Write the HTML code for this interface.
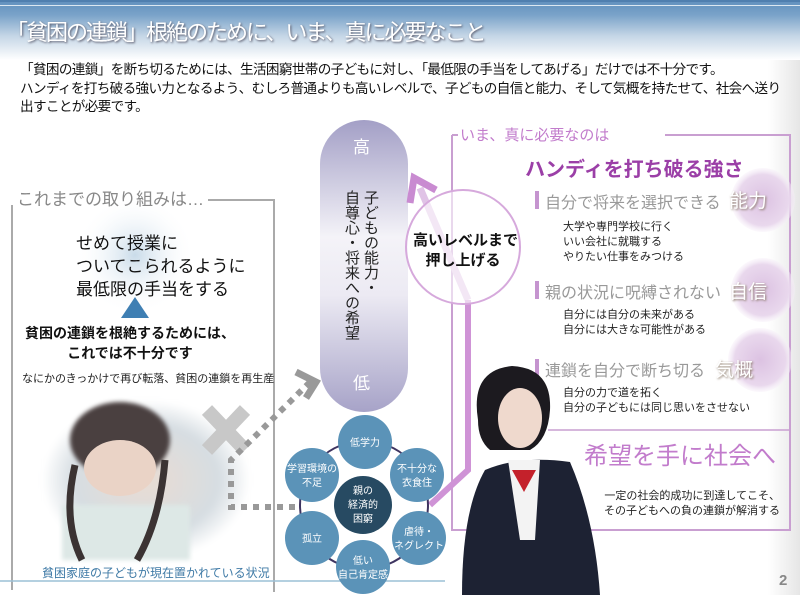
<!DOCTYPE html>
<html><head><meta charset="utf-8">
<style>
body{margin:0;width:800px;height:595px;overflow:hidden;background:#fff;font-family:"Liberation Sans","Noto Sans CJK JP",sans-serif;}
.abs{position:absolute;white-space:nowrap;}
</style></head><body>
<div style="position:relative;width:800px;height:595px;background:linear-gradient(90deg,#fff 0,#fff 96%,#e6e6e6 100%);">
<div class="abs" style="left:0;top:0;width:800px;height:60px;background:linear-gradient(180deg,#5f8fbd 0,#7aa3c9 25%,#c5d6e6 60%,#fff 100%);"></div>
<div class="abs" style="left:0;top:0;width:800px;height:2px;background:#4f7faf;"></div>
<div class="abs" style="left:0;top:5px;width:800px;height:1px;background:#dbe7f1;"></div>
<div class="abs" style="left:6px;top:15px;font-size:22px;color:#fff;letter-spacing:-2px;text-shadow:1px 1px 2px #556;">「貧困の連鎖」根絶のために、いま、真に必要なこと</div>
<div class="abs" style="left:20px;top:61px;font-size:13.6px;line-height:18.5px;color:#111;letter-spacing:-0.65px;">「貧困の連鎖」を断ち切るためには、生活困窮世帯の子どもに対し、「最低限の手当をしてあげる」だけでは不十分です。<br>ハンディを打ち破る強い力となるよう、むしろ普通よりも高いレベルで、子どもの自信と能力、そして気概を持たせて、社会へ送り<br>出すことが必要です。</div>

<svg class="abs" style="left:0;top:0" width="800" height="595">
<defs>
<radialGradient id="glow"><stop offset="0" stop-color="#c9dbe9"/><stop offset="1" stop-color="#fff" stop-opacity="0"/></radialGradient>
<linearGradient id="pill" x1="0" y1="0" x2="0" y2="1"><stop offset="0" stop-color="#a39fc6"/><stop offset=".4" stop-color="#f4f3f8"/><stop offset=".6" stop-color="#eceaf3"/><stop offset="1" stop-color="#a7a3c8"/></linearGradient>
<radialGradient id="pglow"><stop offset="0" stop-color="#dcc2e2"/><stop offset=".8" stop-color="#e9d8ed"/><stop offset="1" stop-color="#f6eef8" stop-opacity="0.4"/></radialGradient>
<radialGradient id="girl1"><stop offset="0" stop-color="#e9dcd3"/><stop offset=".7" stop-color="#d6dde2"/><stop offset="1" stop-color="#fff"/></radialGradient>
</defs>
<polyline points="12,205 12,590" fill="none" stroke="#aaa" stroke-width="2"/>
<polyline points="208,200 274,200 274,592" fill="none" stroke="#aaa" stroke-width="2"/>
<circle cx="135" cy="255" r="60" fill="url(#glow)"/>
<polygon points="135,297 121,318 149,318" fill="#3f7fb3"/>
<rect x="42" y="400" width="208" height="160" rx="25" fill="url(#girl1)" style="filter:blur(3px)"/>
<ellipse cx="120" cy="440" rx="50" ry="38" fill="#4a4040" style="filter:blur(2px)"/>
<ellipse cx="120" cy="468" rx="36" ry="28" fill="#ead3c6"/>
<rect x="62" y="505" width="128" height="55" fill="#dde8e6" style="filter:blur(2px)"/>
<path d="M75,465 Q62,520 82,560" stroke="#3b3333" stroke-width="7" fill="none"/>
<path d="M165,460 Q160,520 137,560" stroke="#3b3333" stroke-width="7" fill="none"/>
<line x1="0" y1="581" x2="445" y2="581" stroke="#9cc0d6" stroke-width="1.5"/>
<g stroke="#c8c8c8" stroke-width="14"><line x1="207" y1="410" x2="245" y2="450"/><line x1="245" y1="410" x2="207" y2="450"/></g>
<polyline points="295,507 231,507 231,460 310,382" fill="none" stroke="#999" stroke-width="6" stroke-dasharray="6,6"/>
<polyline points="296,372 316,382 306,398" fill="none" stroke="#999" stroke-width="7"/>
<rect x="320" y="120" width="88" height="292" rx="44" fill="url(#pill)"/>
<polyline points="452,135 452,530 790,530 790,135 665,135" fill="none" stroke="#c99fd1" stroke-width="2"/>
<line x1="452" y1="135" x2="458" y2="135" stroke="#c99fd1" stroke-width="2"/>
<line x1="548" y1="430" x2="790" y2="430" stroke="#c99fd1" stroke-width="1.5"/>
<circle cx="763" cy="200" r="32" fill="url(#pglow)"/>
<circle cx="763" cy="290" r="32" fill="url(#pglow)"/>
<circle cx="760" cy="360" r="32" fill="url(#pglow)"/>
<rect x="535" y="191" width="4" height="18" fill="#c594cf"/>
<rect x="535" y="281" width="4" height="18" fill="#c594cf"/>
<rect x="535" y="359" width="4" height="18" fill="#c594cf"/>
<line x1="468" y1="300" x2="420" y2="188" stroke="#e0c3e6" stroke-width="7"/>
<polyline points="468,300 468,470 430,505" fill="none" stroke="#cf93d6" stroke-width="6"/>
<polyline points="436,190 414,178 410,203" fill="none" stroke="#c98bd1" stroke-width="7"/>
<circle cx="463" cy="247" r="57" fill="rgba(255,255,255,0.6)" stroke="#d6a9dc" stroke-width="2"/>
<!-- student -->
<path d="M478,420 Q470,370 512,366 Q552,368 550,410 Q548,440 530,450 L490,450 Q478,440 478,420Z" fill="#1c1a1f"/>
<ellipse cx="520" cy="418" rx="22" ry="30" fill="#efd9cd"/>
<path d="M485,470 Q520,455 570,462 Q595,520 600,595 L462,595 Q462,510 485,470Z" fill="#1d2233"/>
<polygon points="508,460 540,460 535,540 520,540" fill="#f3f3f3"/>
<polygon points="512,470 536,470 524,492" fill="#c4212b"/>
<circle cx="364" cy="505" r="64" fill="none" stroke="#3e3460" stroke-width="2"/>
<g fill="#5b93b8">
<circle cx="365" cy="442" r="27"/><circle cx="417" cy="475" r="27"/><circle cx="419" cy="538" r="27"/>
<circle cx="363" cy="567" r="27"/><circle cx="312" cy="538" r="27"/><circle cx="312" cy="475" r="27"/>
</g>
<circle cx="363" cy="505" r="29" fill="#274a62"/>
<g font-size="10" fill="#fff" text-anchor="middle" font-family="Liberation Sans,Noto Sans CJK JP,sans-serif">
<text x="365" y="446">低学力</text>
<text x="417" y="472">不十分な</text><text x="417" y="486">衣食住</text>
<text x="419" y="535">虐待・</text><text x="419" y="549">ネグレクト</text>
<text x="363" y="564">低い</text><text x="363" y="578">自己肯定感</text>
<text x="312" y="542">孤立</text>
<text x="312" y="472">学習環境の</text><text x="312" y="486">不足</text>
<text x="363" y="494">親の</text><text x="363" y="508">経済的</text><text x="363" y="522">困窮</text>
</g>
</svg>

<div class="abs" style="left:17px;top:185px;font-size:17px;color:#888;">これまでの取り組みは…</div>
<div class="abs" style="left:76px;top:232px;font-size:17px;line-height:23px;color:#111;">せめて授業に<br>ついてこられるように<br>最低限の手当をする</div>
<div class="abs" style="left:20px;top:323px;width:220px;text-align:center;font-size:14px;line-height:20px;font-weight:bold;color:#111;">貧困の連鎖を根絶するためには、<br>これでは不十分です</div>
<div class="abs" style="left:22px;top:370px;font-size:11px;color:#222;">なにかのきっかけで再び転落、貧困の連鎖を再生産</div>
<div class="abs" style="left:42px;top:564px;font-size:12px;color:#3f7aa6;">貧困家庭の子どもが現在置かれている状況</div>

<div class="abs" style="left:353px;top:133px;font-size:17px;color:#fff;">高</div>
<div class="abs" style="left:353px;top:369px;font-size:17px;color:#fff;">低</div>
<div class="abs" style="left:342px;top:190px;font-size:15px;line-height:19px;color:#222;writing-mode:vertical-rl;">子どもの能力・<br>自尊心・将来への希望</div>
<div class="abs" style="left:413px;top:231px;width:100px;text-align:center;font-size:15px;line-height:20px;font-weight:bold;color:#111;">高いレベルまで<br>押し上げる</div>

<div class="abs" style="left:458px;top:124px;font-size:15px;color:#c27ccc;background:#fff;padding:0 2px;">いま、真に必要なのは</div>
<div class="abs" style="left:525px;top:153px;font-size:20px;font-weight:bold;color:#9b3fa7;">ハンディを打ち破る強さ</div>
<div class="abs" style="left:545px;top:189px;font-size:16px;color:#999;">自分で将来を選択できる</div>
<div class="abs" style="left:729px;top:186px;font-size:19px;color:#fff;text-shadow:1px 1px 2px #876;">能力</div>
<div class="abs" style="left:563px;top:220px;font-size:11px;line-height:15px;color:#222;">大学や専門学校に行く<br>いい会社に就職する<br>やりたい仕事をみつける</div>
<div class="abs" style="left:545px;top:279px;font-size:16px;color:#999;">親の状況に呪縛されない</div>
<div class="abs" style="left:729px;top:277px;font-size:19px;color:#fff;text-shadow:1px 1px 2px #876;">自信</div>
<div class="abs" style="left:563px;top:308px;font-size:11px;line-height:15px;color:#222;">自分には自分の未来がある<br>自分には大きな可能性がある</div>
<div class="abs" style="left:545px;top:357px;font-size:16px;color:#999;">連鎖を自分で断ち切る</div>
<div class="abs" style="left:715px;top:355px;font-size:19px;color:#fff;text-shadow:1px 1px 2px #876;">気概</div>
<div class="abs" style="left:563px;top:386px;font-size:11px;line-height:15px;color:#222;">自分の力で道を拓く<br>自分の子どもには同じ思いをさせない</div>
<div class="abs" style="left:584px;top:436px;font-size:24px;color:#c27ccc;">希望を手に社会へ</div>
<div class="abs" style="left:600px;top:489px;width:180px;text-align:right;font-size:11px;line-height:15px;color:#222;">一定の社会的成功に到達してこそ、<br>その子どもへの負の連鎖が解消する</div>
<div class="abs" style="left:779px;top:572px;font-size:15px;font-weight:bold;color:#888;">2</div>
</div>
</body></html>
